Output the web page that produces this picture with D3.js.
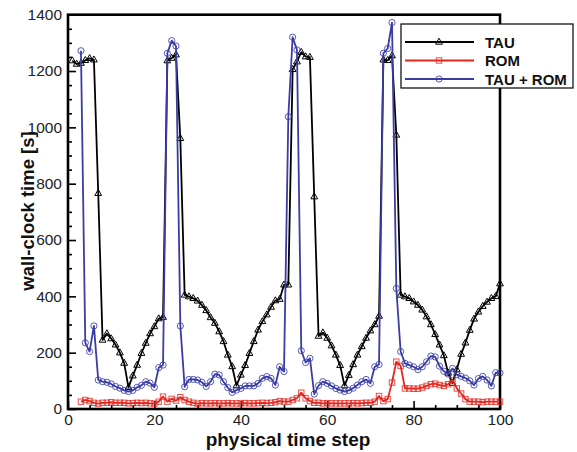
<!DOCTYPE html>
<html><head><meta charset="utf-8">
<script src="https://cdn.jsdelivr.net/npm/d3@7"></script>
<style>
body{margin:0;background:#fff;}
svg{display:block;font-family:"Liberation Sans",Arial,sans-serif;}
</style></head>
<body><svg id="c" width="577" height="452"></svg>
<script>
// physical time step of the first value of each series
const tauStart = 1;
const romStart = 3;
const tauRomStart = 3;

const tau = [1237,1225,1228,1238,1245,1240,766,245,268,250,228,200,163,77,118,156,198,234,268,293,
321,326,1237,1246,1258,961,405,399,393,384,369,350,325,305,275,240,192,151,83,121,
155,198,240,281,311,335,362,385,390,441,441,1206,1233,1267,1251,1249,754,259,271,252,
225,192,155,83,120,158,192,222,252,278,300,330,1240,1238,1255,973,405,399,393,381,
369,352,328,300,265,228,190,128,92,140,195,235,280,320,345,365,380,393,400,445];

const rom = [26,32,28,22,19,22,22,24,22,22,22,20,21,22,21,22,20,19,26,44,
26,36,30,42,32,26,22,19,21,20,20,21,20,20,21,20,20,20,21,20,
20,21,22,21,22,24,28,26,26,32,38,58,38,28,22,22,20,21,20,20,
20,20,20,21,20,21,22,22,26,46,28,35,94,168,153,73,73,72,72,76,
82,88,90,85,82,88,103,73,55,35,26,26,26,24,26,26,26,26];

const tauRom = [1272,235,204,295,103,97,95,89,80,74,66,62,66,77,84,97,92,77,147,156,
1263,1308,1289,295,79,105,105,103,95,80,97,124,121,97,76,59,67,73,82,82,
82,91,109,115,109,85,150,133,1038,1320,1275,207,165,180,53,83,97,91,82,73,
67,62,66,74,85,97,105,91,150,158,1263,1280,1372,428,204,162,156,150,140,150,
168,188,185,152,134,124,144,122,116,110,100,85,108,116,103,82,129,128];

const seriesNames = ["TAU","ROM","TAU + ROM"];
const seriesColors = ["#000000","#e3261e","#3a3ca6"];
const xMajor = [0,20,40,60,80,100];
const yMajor = [0,200,400,600,800,1000,1200,1400];

const svg = d3.select("#c");
const x = d3.scaleLinear().domain([0,100]).range([68,500]);
const y = d3.scaleLinear().domain([0,1400]).range([409,14.7]);

const series = [
  {name:seriesNames[0], color:seriesColors[0], shape:"tri",
   pts: tau.map((v,i)=>[tauStart+i, v])},
  {name:seriesNames[1], color:seriesColors[1], shape:"sq",
   pts: rom.map((v,i)=>[romStart+i, v])},
  {name:seriesNames[2], color:seriesColors[2], shape:"circ",
   pts: tauRom.map((v,i)=>[tauRomStart+i, v])}
];

// axes (ticks inward)
const xMinor = d3.range(0,101,5).filter(v=>!xMajor.includes(v));
const yMinor = d3.range(0,1401,50).filter(v=>!yMajor.includes(v));

svg.append("g").attr("transform","translate(0,409)")
  .call(d3.axisBottom(x).tickValues(xMajor).tickSize(-8).tickPadding(5).tickFormat(d3.format("d")));
svg.append("g").attr("transform","translate(0,409)")
  .call(d3.axisBottom(x).tickValues(xMinor).tickSize(-4).tickFormat(""));
svg.append("g").attr("transform","translate(68,0)")
  .call(d3.axisLeft(y).tickValues(yMajor).tickSize(-8).tickPadding(6).tickFormat(d3.format("d")));
svg.append("g").attr("transform","translate(68,0)")
  .call(d3.axisLeft(y).tickValues(yMinor).tickSize(-4).tickFormat(""));
svg.selectAll(".domain").remove();
svg.selectAll(".tick line").attr("stroke","#000").attr("stroke-width",1.6);
svg.selectAll(".tick text").attr("font-size",15.5).attr("fill","#222")
  .attr("font-family","'Liberation Sans',Arial,sans-serif");

// frame
svg.append("rect").attr("x",x(0)).attr("y",y(1400)).attr("width",x(100)-x(0)).attr("height",y(0)-y(1400))
  .attr("fill","none").attr("stroke","#000").attr("stroke-width",2.6);

function marker(g, shape, color){
  if(shape==="tri"){
    g.append("path").attr("d","M0,-3.8L3.4,2.2L-3.4,2.2Z").attr("fill","none").attr("stroke",color).attr("stroke-width",1);
  } else if(shape==="sq"){
    g.append("rect").attr("x",-2.7).attr("y",-2.7).attr("width",5.4).attr("height",5.4)
      .attr("fill","none").attr("stroke",color).attr("stroke-width",1).attr("stroke-opacity",0.8);
  } else {
    g.append("circle").attr("r",3.1).attr("fill","none").attr("stroke",color).attr("stroke-width",1).attr("stroke-opacity",0.85);
  }
}

const line = d3.line().x(d=>x(d[0])).y(d=>y(d[1]));
series.forEach(s=>{
  const g = svg.append("g");
  g.append("path").datum(s.pts).attr("d",line).attr("fill","none")
    .attr("stroke",s.color).attr("stroke-width",1.8).attr("stroke-linejoin","round");
  s.pts.forEach(p=>{
    const m = g.append("g").attr("transform",`translate(${x(p[0])},${y(p[1])})`);
    marker(m, s.shape, s.color);
  });
});

// legend
const lg = svg.append("g");
lg.append("rect").attr("x",401).attr("y",24).attr("width",172).attr("height",64)
  .attr("fill","#fff").attr("stroke","#000").attr("stroke-width",1.2);
series.forEach((s,i)=>{
  const yy = 42 + i*18.5;
  lg.append("line").attr("x1",405).attr("x2",474).attr("y1",yy).attr("y2",yy)
    .attr("stroke",s.color).attr("stroke-width",1.8);
  const m = lg.append("g").attr("transform",`translate(439,${yy})`);
  marker(m, s.shape, s.color);
  lg.append("text").attr("x",485).attr("y",yy+5.5).attr("font-size",15).attr("font-weight","bold")
    .attr("fill","#111").text(s.name);
});

// axis titles
svg.append("text").attr("x",288).attr("y",446).attr("text-anchor","middle")
  .attr("font-size",19).attr("font-weight","bold").attr("fill","#111").text("physical time step");
svg.append("text").attr("transform","translate(34,211) rotate(-90)").attr("text-anchor","middle")
  .attr("font-size",18.5).attr("font-weight","bold").attr("fill","#111").text("wall-clock time [s]");
</script></body></html>
